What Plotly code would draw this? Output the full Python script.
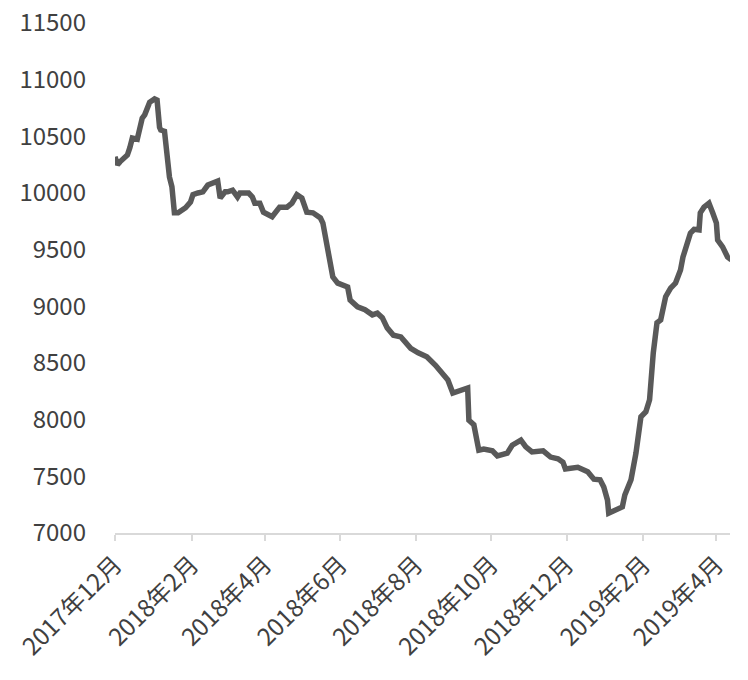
import plotly.graph_objects as go

dates = [
    "2017-12-01", "2017-12-03", "2017-12-05", "2017-12-11", "2017-12-13", "2017-12-15",
    "2017-12-19", "2017-12-21", "2017-12-23", "2017-12-25", "2017-12-28", "2017-12-29",
    "2018-01-02", "2018-01-04", "2018-01-06", "2018-01-07", "2018-01-10", "2018-01-12",
    "2018-01-14", "2018-01-16", "2018-01-18", "2018-01-21", "2018-01-27", "2018-01-31",
    "2018-02-02", "2018-02-06", "2018-02-10", "2018-02-14", "2018-02-18", "2018-02-22",
    "2018-02-24", "2018-02-28", "2018-03-02", "2018-03-06", "2018-03-10", "2018-03-12",
    "2018-03-19", "2018-03-22", "2018-03-24", "2018-03-28", "2018-03-31", "2018-04-07",
    "2018-04-13", "2018-04-19", "2018-04-23", "2018-04-27", "2018-05-01", "2018-05-05",
    "2018-05-10", "2018-05-16", "2018-05-18", "2018-05-26", "2018-05-30", "2018-06-07",
    "2018-06-09", "2018-06-15", "2018-06-21", "2018-06-27", "2018-07-01", "2018-07-05",
    "2018-07-09", "2018-07-14", "2018-07-20", "2018-07-28", "2018-08-03", "2018-08-10",
    "2018-08-17", "2018-08-22", "2018-08-27", "2018-08-31", "2018-09-06", "2018-09-12",
    "2018-09-13", "2018-09-17", "2018-09-21", "2018-09-25", "2018-10-02", "2018-10-06",
    "2018-10-14", "2018-10-18", "2018-10-25", "2018-10-29", "2018-11-03", "2018-11-12",
    "2018-11-18", "2018-11-24", "2018-11-28", "2018-11-30", "2018-12-10", "2018-12-18",
    "2018-12-23", "2018-12-28", "2018-12-31", "2019-01-03", "2019-01-04", "2019-01-09",
    "2019-01-15", "2019-01-17", "2019-01-22", "2019-01-26", "2019-01-30", "2019-02-03",
    "2019-02-06", "2019-02-09", "2019-02-12", "2019-02-15", "2019-02-19", "2019-02-23",
    "2019-02-27", "2019-03-03", "2019-03-05", "2019-03-11", "2019-03-14", "2019-03-18",
    "2019-03-19", "2019-03-22", "2019-03-26", "2019-03-29", "2019-04-01", "2019-04-02",
    "2019-04-06", "2019-04-10", "2019-04-13",
]

values = [
    10320, 10250, 10275, 10335, 10400, 10485,
    10475, 10580, 10660, 10690, 10795, 10800,
    10830, 10820, 10580, 10555, 10545, 10290,
    10140, 10055, 9825, 9825, 9870, 9920,
    9985, 10000, 10010, 10070, 10090, 10105,
    9955, 10010, 10010, 10025, 9965, 10000,
    10000, 9965, 9910, 9910, 9830, 9790,
    9875, 9875, 9910, 9985, 9955, 9830,
    9825, 9780, 9735, 9260, 9205, 9170,
    9055, 8995, 8970, 8925, 8940, 8900,
    8810, 8745, 8730, 8630, 8590, 8555,
    8480, 8420, 8350, 8235, 8260, 8280,
    7995, 7955, 7730, 7740, 7725, 7680,
    7705, 7775, 7820, 7760, 7715, 7725,
    7670, 7655, 7625, 7565, 7580, 7540,
    7475, 7470, 7405, 7290, 7175, 7200,
    7230, 7335, 7470, 7705, 8025, 8070,
    8175, 8590, 8855, 8880, 9085, 9160,
    9205, 9320, 9435, 9645, 9680, 9675,
    9825, 9875, 9910, 9825, 9735, 9585,
    9525, 9435, 9410,
]

tick_dates = ["2017-12-01", "2018-02-01", "2018-04-01", "2018-06-01", "2018-08-01",
              "2018-10-01", "2018-12-01", "2019-02-01", "2019-04-01"]
tick_labels = ["2017年12月", "2018年2月", "2018年4月", "2018年6月", "2018年8月",
               "2018年10月", "2018年12月", "2019年2月", "2019年4月"]

y_ticks = [7000, 7500, 8000, 8500, 9000, 9500, 10000, 10500, 11000, 11500]
y_tick_labels = [str(v) for v in y_ticks]

fig = go.Figure()
fig.add_trace(go.Scatter(
    x=dates, y=values, mode="lines",
    line=dict(color="#595959", width=5.5),
    showlegend=False, cliponaxis=False,
))

font_family = "Noto Sans CJK SC, Noto Sans, sans-serif"
fig.update_layout(
    width=748, height=680,
    margin=dict(l=115, r=18, t=23, b=147, autoexpand=False),
    paper_bgcolor="white", plot_bgcolor="white",
    font=dict(family=font_family, size=24, color="#404040"),
)
fig.update_xaxes(
    type="date",
    range=["2017-12-01", "2019-04-12"],
    tickvals=tick_dates, ticktext=tick_labels,
    tickangle=-45, automargin=False, ticklabeloverflow="allow",
    showgrid=False, zeroline=False,
    showline=True, linecolor="#d9d9d9", linewidth=2,
    ticks="outside", ticklen=6, tickcolor="#d9d9d9", tickwidth=2,
    tickfont=dict(size=24, color="#404040"),
)
fig.update_yaxes(
    range=[7000, 11500], automargin=False, ticklabeloverflow="allow",
    tickvals=y_ticks, ticktext=y_tick_labels,
    showgrid=False, zeroline=False, showline=False,
    ticks="", ticklabelstandoff=28,
    tickfont=dict(size=24, color="#404040"),
)

fig.write_html(
    "out.html",
    config={"displayModeBar": False},
    post_script="document.body.style.margin='0';document.body.style.overflow='hidden';",
)
